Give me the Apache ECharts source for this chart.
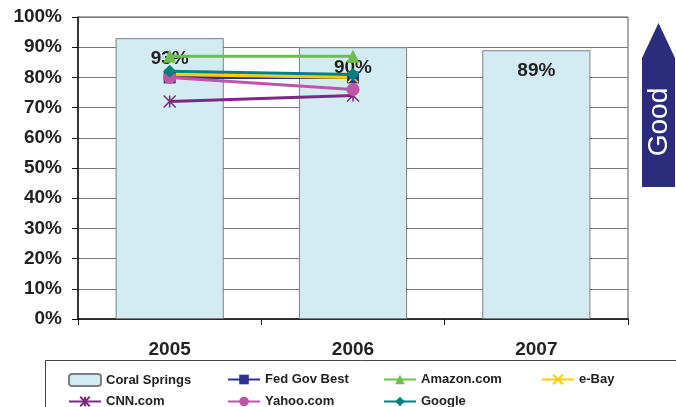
<!DOCTYPE html>
<html>
<head>
<meta charset="utf-8">
<script src="https://cdn.jsdelivr.net/npm/echarts@6/dist/echarts.min.js"></script>
<style>html,body{margin:0;padding:0;background:#fff}#c{width:676px;height:407px}</style>
</head>
<body>
<div id="c"></div>
<script>
var years = ['2005', '2006', '2007'];
var coralSprings = [93, 90, 89];
var fedGovBest = [80, 80, '-'];
var amazon = [87, 87, '-'];
var ebay = [81, 80, '-'];
var cnn = [72, 74, '-'];
var yahoo = [80, 76, '-'];
var google = [82, 81, '-'];
var yTicks = [0, 10, 20, 30, 40, 50, 60, 70, 80, 90, 100];

var FONT = '"Liberation Sans", Arial, sans-serif';
var X_PATH = 'path://M0,0L10,10M10,0L0,10';
var STAR_PATH = 'path://M0,0L10,10M10,0L0,10M5,0L5,10';

function lineSeries(name, data, color, symbol, size, stroke) {
  return {
    name: name, type: 'line', data: data, symbol: symbol, symbolSize: size,
    showSymbol: true, connectNulls: false, z: 5,
    lineStyle: { color: color, width: 3 },
    itemStyle: stroke ? { color: color, borderColor: color, borderWidth: 1.5 } : { color: color, borderColor: color, borderWidth: 0 }
  };
}

var legendPos = [
  ['Coral Springs', 63, 368], ['Fed Gov Best', 222, 368], ['Amazon.com', 378, 368], ['e-Bay', 536, 368],
  ['CNN.com', 63, 390], ['Yahoo.com', 222, 390], ['Google', 378, 390]
];
var legends = legendPos.map(function (p) {
  return {
    data: [p[0]], left: p[1], top: p[2], itemWidth: 32, itemHeight: 12, itemGap: 4,
    textStyle: { fontFamily: FONT, fontSize: 13, fontWeight: 'bold', color: '#222' },
    selectedMode: false
  };
});

var chart = echarts.init(document.getElementById('c'), null, { renderer: 'canvas' });
chart.setOption({
  animation: false,
  backgroundColor: '#fff',
  grid: { left: 78, top: 17, right: 48, bottom: 88, show: true, borderColor: '#555', borderWidth: 1, backgroundColor: 'transparent' },
  legend: legends,
  xAxis: {
    type: 'category', data: years,
    axisLine: { lineStyle: { color: '#111', width: 1.5 } },
    axisTick: { show: true, length: 6, lineStyle: { color: '#111' } },
    axisLabel: { fontFamily: FONT, fontSize: 19, fontWeight: 'bold', color: '#222', margin: 21 }
  },
  yAxis: {
    type: 'value', min: 0, max: 100, interval: 10,
    axisLine: { show: true, lineStyle: { color: '#111', width: 1.5 } },
    axisTick: { show: true, length: 6, lineStyle: { color: '#111' } },
    axisLabel: { fontFamily: FONT, fontSize: 19, fontWeight: 'bold', color: '#222', margin: 16, formatter: '{value}%' },
    splitLine: { lineStyle: { color: '#7a7a7a', width: 1 } }
  },
  graphic: [
    { type: 'rect', shape: { x: 45.5, y: 360.5, width: 640, height: 60 }, style: { fill: 'none', stroke: '#444', lineWidth: 1 }, z: 0 },
    { type: 'polygon', shape: { points: [[642, 187], [642, 58], [658.5, 23], [675, 58], [675, 187]] }, style: { fill: '#2b2c7c' }, z: 10 },
    { type: 'text', x: 659, y: 122, rotation: Math.PI / 2,
      style: { text: 'Good', fill: '#fff', font: '28px "Liberation Sans", Arial, sans-serif', align: 'center', verticalAlign: 'middle' }, z: 11 }
  ],
  series: [
    {
      name: 'Coral Springs', type: 'bar', data: coralSprings, barWidth: '59%', z: 2,
      itemStyle: { color: '#d3ecf3', borderColor: '#7f7f7f', borderWidth: 1 },
      label: { show: true, position: 'insideTop', distance: 11, formatter: '{c}%',
        fontFamily: FONT, fontSize: 19, fontWeight: 'bold', color: '#222' }
    },
    lineSeries('Fed Gov Best', fedGovBest, '#2e3192', 'rect', 12, false),
    lineSeries('Amazon.com', amazon, '#6cc04a', 'triangle', 13, false),
    lineSeries('e-Bay', ebay, '#ffcc00', X_PATH, 10, true),
    lineSeries('CNN.com', cnn, '#7b2a80', STAR_PATH, 12, true),
    lineSeries('Yahoo.com', yahoo, '#c055a8', 'circle', 13, false),
    lineSeries('Google', google, '#00807f', 'diamond', 13, false)
  ]
});
</script>
</body>
</html>
